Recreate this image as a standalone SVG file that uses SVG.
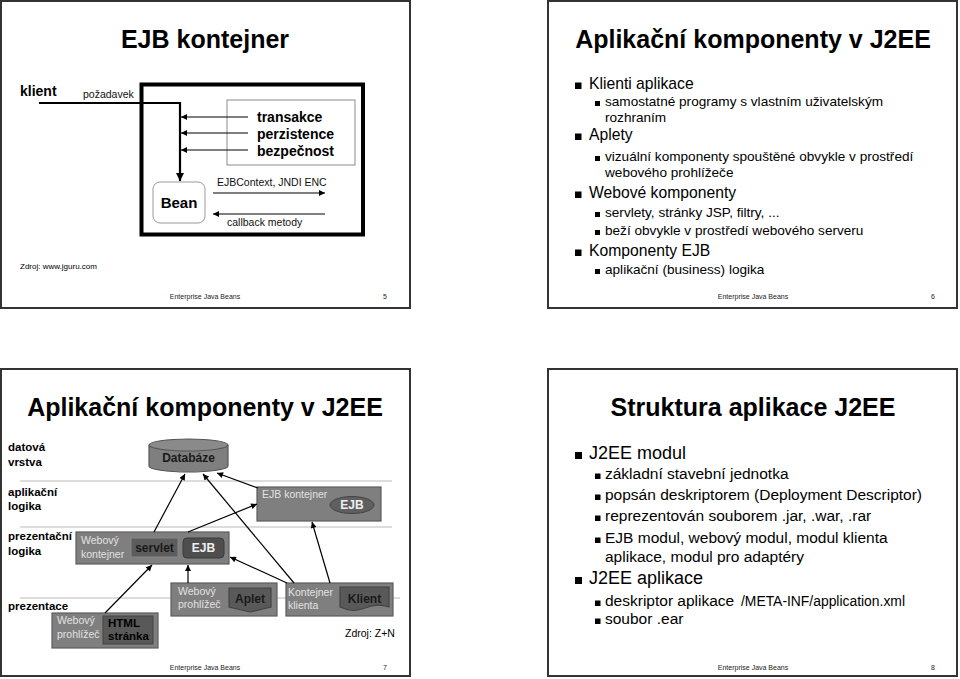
<svg xmlns="http://www.w3.org/2000/svg" width="960" height="679" viewBox="0 0 960 679">
<style>
text{font-family:"Liberation Sans",Arial,sans-serif;fill:#000}
.frame{fill:#fff;stroke:#333;stroke-width:2}
.title{font-size:25px;font-weight:bold;text-anchor:middle}
.foot{font-size:7px;fill:#222}
.footc{font-size:7px;fill:#222;text-anchor:middle}
.b14{font-size:14px;font-weight:bold}
.s10{font-size:10.5px;fill:#111}
.l1{font-size:15.7px}
.l2{font-size:13.6px}
.m1{font-size:18px}
.m2{font-size:15.5px}
.tier{font-size:11.5px;font-weight:bold}
.sep{stroke:#d0d0d0;stroke-width:1.5}
.box{fill:#7f7f7f;stroke:#5c5c5c;stroke-width:1.2}
.dark{fill:#595959;stroke:#444;stroke-width:1.2}
.lt{font-size:10.5px;fill:#e2e2e2}
.bd{font-size:12px;font-weight:bold;fill:#1a1a1a;text-anchor:middle}
.bl{font-size:12px;font-weight:bold;fill:#eee;text-anchor:middle}
.ln{stroke:#000;stroke-width:1.2;fill:none}
</style>
<defs>
<marker id="ah" viewBox="0 0 10 10" refX="10" refY="5" markerWidth="7" markerHeight="6" orient="auto" markerUnits="userSpaceOnUse"><path d="M0,0 L10,5 L0,10 Z" fill="#000"/></marker>
<marker id="ahb" viewBox="0 0 10 10" refX="10" refY="5" markerWidth="10" markerHeight="8" orient="auto" markerUnits="userSpaceOnUse"><path d="M0,0 L10,5 L0,10 Z" fill="#000"/></marker>
</defs>
<rect width="960" height="679" fill="#fff"/>

<!-- Slide 5 -->
<g id="slide5">
<rect class="frame" x="1" y="1" width="409" height="307"/>
<text class="title" x="205" y="48">EJB kontejner</text>
<g id="klient"><text class="b14" x="20" y="96">klient</text></g>
<g id="kontejner"><rect x="141.5" y="84.5" width="221.5" height="150" fill="none" stroke="#000" stroke-width="4"/></g>
<g id="sluzby">
<rect x="227" y="100" width="128" height="65" fill="none" stroke="#8c8c8c" stroke-width="1"/>
<text class="b14" x="257" y="122">transakce</text>
<text class="b14" x="257" y="139">perzistence</text>
<text class="b14" x="257" y="156">bezpečnost</text>
</g>
<g id="bean">
<rect x="153" y="182" width="52" height="41" rx="7" fill="#fff" stroke="#999" stroke-width="1"/>
<text x="179" y="208" font-size="15" font-weight="bold" text-anchor="middle">Bean</text>
</g>
<g id="connectors5">
<path d="M39 103 H180 V181" fill="none" stroke="#000" stroke-width="2.2" marker-end="url(#ahb)"/>
<text class="s10" x="83" y="98">požadavek</text>
<line class="ln" x1="248" y1="117" x2="181" y2="117" marker-end="url(#ah)"/>
<line class="ln" x1="248" y1="133" x2="181" y2="133" marker-end="url(#ah)"/>
<line class="ln" x1="248" y1="150" x2="181" y2="150" marker-end="url(#ah)"/>
<line class="ln" x1="213" y1="193" x2="325" y2="193" stroke-width="1.6" marker-end="url(#ah)"/>
<line class="ln" x1="325" y1="214" x2="213" y2="214" stroke-width="1.6" marker-end="url(#ah)"/>
<text class="s10" x="217" y="186">EJBContext, JNDI ENC</text>
<text class="s10" x="227" y="226">callback metody</text>
</g>
<text x="20" y="269" font-size="8" fill="#222">Zdroj: www.jguru.com</text>
<text class="footc" x="205" y="299">Enterprise Java Beans</text>
<text class="foot" x="383" y="299">5</text>
</g>

<!-- Slide 6 -->
<g id="slide6">
<rect class="frame" x="548" y="1" width="409" height="307"/>
<text class="title" x="753" y="48">Aplikační komponenty v J2EE</text>
<g fill="#000">
<rect x="575" y="82.5" width="6.5" height="6.5"/>
<rect x="595" y="101" width="5" height="5"/>
<rect x="575" y="133.5" width="6.5" height="6.5"/>
<rect x="595" y="156" width="5" height="5"/>
<rect x="575" y="191.5" width="6.5" height="6.5"/>
<rect x="595" y="212" width="5" height="5"/>
<rect x="595" y="230" width="5" height="5"/>
<rect x="575" y="249.5" width="6.5" height="6.5"/>
<rect x="595" y="269" width="5" height="5"/>
</g>
<text class="l1" x="589" y="89">Klienti aplikace</text>
<text class="l2" x="605" y="106">samostatné programy s vlastním uživatelským</text>
<text class="l2" x="605" y="122">rozhraním</text>
<text class="l1" x="589" y="140">Aplety</text>
<text class="l2" x="605" y="161">vizuální komponenty spouštěné obvykle v prostředí</text>
<text class="l2" x="605" y="177">webového prohlížeče</text>
<text class="l1" x="589" y="198">Webové komponenty</text>
<text class="l2" x="605" y="217">servlety, stránky JSP, filtry, ...</text>
<text class="l2" x="605" y="235">beží obvykle v prostředí webového serveru</text>
<text class="l1" x="589" y="256">Komponenty EJB</text>
<text class="l2" x="605" y="274">aplikační (business) logika</text>
<text class="footc" x="753" y="299">Enterprise Java Beans</text>
<text class="foot" x="931" y="299">6</text>
</g>

<!-- Slide 7 -->
<g id="slide7">
<rect class="frame" x="1" y="369" width="409" height="307"/>
<text class="title" x="205" y="416">Aplikační komponenty v J2EE</text>
<line class="sep" x1="20" y1="481" x2="392" y2="481"/>
<line class="sep" x1="20" y1="527" x2="392" y2="527"/>
<line class="sep" x1="20" y1="598" x2="400" y2="598"/>
<text class="tier" x="8" y="451">datová</text>
<text class="tier" x="8" y="466">vrstva</text>
<text class="tier" x="8" y="496">aplikační</text>
<text class="tier" x="8" y="510">logika</text>
<text class="tier" x="8" y="540">prezentační</text>
<text class="tier" x="8" y="555">logika</text>
<text class="tier" x="8" y="610">prezentace</text>

<g id="databaze">
<path d="M149 445 V466 A39.5 6 0 0 0 228 466 V445" fill="#7f7f7f" stroke="#555" stroke-width="1.2"/>
<ellipse cx="188.5" cy="445" rx="39.5" ry="6" fill="#8a8a8a" stroke="#555" stroke-width="1.2"/>
<text class="bd" x="188.5" y="462" font-size="11.5">Databáze</text>
</g>
<g id="ejb-kontejner">
<rect class="box" x="257" y="487" width="124" height="34"/>
<text class="lt" x="262" y="498">EJB kontejner</text>
<ellipse cx="352" cy="505" rx="22" ry="8.5" fill="#5f5f5f" stroke="#444" stroke-width="1"/>
<text class="bl" x="352" y="509" font-size="11">EJB</text>
</g>
<g id="webovy-kontejner">
<rect class="box" x="76" y="532" width="153" height="32"/>
<text class="lt" x="81" y="544">Webový</text>
<text class="lt" x="81" y="558">kontejner</text>
<rect x="131" y="538" width="47" height="19" fill="#5c5c5c" stroke="#888" stroke-width="1"/>
<text class="bd" x="154.5" y="552">servlet</text>
<rect x="183" y="538" width="41" height="20" rx="4" fill="#4e4e4e" stroke="#3a3a3a" stroke-width="1"/>
<text class="bl" x="203.5" y="552">EJB</text>
</g>
<g id="prohlizec-aplet">
<rect class="box" x="171" y="583" width="106" height="33"/>
<text class="lt" x="178" y="595">Webový</text>
<text class="lt" x="178" y="608">prohlížeč</text>
<path class="dark" d="M229 588 H271 V607 L250 612 L229 607 Z"/>
<text class="bd" x="250" y="603">Aplet</text>
</g>
<g id="kontejner-klienta">
<rect class="box" x="286" y="583" width="107" height="33"/>
<text class="lt" x="288" y="596">Kontejner</text>
<text class="lt" x="288" y="609">klienta</text>
<path class="dark" d="M340 587 H389 V607 Q377 603 365 608 Q352 613 340 607 Z"/>
<text class="bd" x="364.5" y="603">Klient</text>
</g>
<g id="prohlizec-html">
<rect class="box" x="52" y="613" width="106" height="35"/>
<text class="lt" x="57" y="624">Webový</text>
<text class="lt" x="57" y="638">prohlížeč</text>
<rect x="103" y="616" width="50" height="28" fill="#595959" stroke="#444" stroke-width="1"/>
<text x="108" y="627" font-size="11.5" font-weight="bold" fill="#e6e6e6">HTML</text>
<text x="108" y="640" font-size="11.5" font-weight="bold" fill="#e6e6e6">stránka</text>
</g>
<g id="connectors7">
<line class="ln" x1="154" y1="532" x2="185" y2="474" marker-end="url(#ah)"/>
<line class="ln" x1="188" y1="532" x2="257" y2="504" marker-end="url(#ah)"/>
<line class="ln" x1="258" y1="488" x2="217" y2="473" marker-end="url(#ah)"/>
<line class="ln" x1="294" y1="583" x2="203" y2="474" marker-end="url(#ah)"/>
<line class="ln" x1="287" y1="583" x2="230" y2="557" marker-end="url(#ah)"/>
<line class="ln" x1="330" y1="583" x2="312" y2="522" marker-end="url(#ah)"/>
<line class="ln" x1="188" y1="583" x2="188" y2="565" marker-end="url(#ah)"/>
<line class="ln" x1="105" y1="613" x2="152" y2="565" marker-end="url(#ah)"/>
</g>
<text x="345" y="637" font-size="10.5" fill="#111">Zdroj: Z+N</text>
<text class="footc" x="205" y="670">Enterprise Java Beans</text>
<text class="foot" x="383" y="670">7</text>
</g>

<!-- Slide 8 -->
<g id="slide8">
<rect class="frame" x="548" y="369" width="409" height="307"/>
<text class="title" x="753" y="416">Struktura aplikace J2EE</text>
<g fill="#000">
<rect x="575" y="452" width="7" height="7"/>
<rect x="595" y="473.5" width="5.5" height="5.5"/>
<rect x="595" y="494.5" width="5.5" height="5.5"/>
<rect x="595" y="515.5" width="5.5" height="5.5"/>
<rect x="595" y="537.5" width="5.5" height="5.5"/>
<rect x="575" y="577" width="7" height="7"/>
<rect x="595" y="600.5" width="5.5" height="5.5"/>
<rect x="595" y="618.5" width="5.5" height="5.5"/>
</g>
<text class="m1" x="589" y="459">J2EE modul</text>
<text class="m2" x="605" y="479">základní stavební jednotka</text>
<text class="m2" x="605" y="500">popsán deskriptorem (Deployment Descriptor)</text>
<text class="m2" x="605" y="521">reprezentován souborem .jar, .war, .rar</text>
<text class="m2" x="605" y="543">EJB modul, webový modul, modul klienta</text>
<text class="m2" x="605" y="562">aplikace, modul pro adaptéry</text>
<text class="m1" x="589" y="584">J2EE aplikace</text>
<text class="m2" x="605" y="606">deskriptor aplikace <tspan x="741" textLength="164" lengthAdjust="spacingAndGlyphs">/META-INF/application.xml</tspan></text>
<text class="m2" x="605" y="624">soubor .ear</text>
<text class="footc" x="753" y="670">Enterprise Java Beans</text>
<text class="foot" x="931" y="670">8</text>
</g>
</svg>
